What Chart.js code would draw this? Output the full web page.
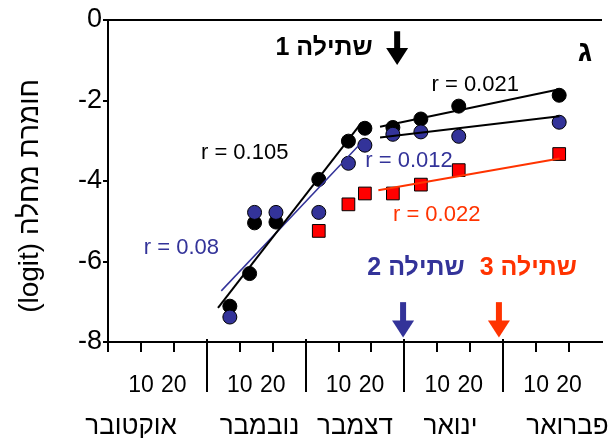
<!DOCTYPE html>
<html>
<head>
<meta charset="utf-8">
<script src="https://cdn.jsdelivr.net/npm/chart.js@4.4.1/dist/chart.umd.min.js"></script>
<style>
  html, body { margin: 0; padding: 0; background: #fff; }
</style>
</head>
<body>
<canvas id="severityChart" width="612" height="438"></canvas>
<script>
// x = days from 1 October (30 days per month), y = disease severity (logit)
const monthNames = ["אוקטובר", "נובמבר", "דצמבר", "ינואר", "פברואר"];
const monthStarts = [30, 60, 90, 120];
const dayTicks = [0, 10, 20, 30, 40, 50, 60, 70, 80, 90, 100, 110, 120, 130, 140];
const monthLabelTicks = [7, 46, 75, 104, 139.5];

const blackDays = [37, 43, 44.5, 51, 64, 73, 78, 86.5, 95, 106.5, 137];
const blackValues = [-7.11, -6.3, -5.04, -5.02, -3.96, -3.01, -2.69, -2.67, -2.46, -2.14, -1.87];

const blueDays = [37, 44.5, 51, 64, 73, 78, 86.5, 95, 106.5, 137];
const blueValues = [-7.38, -4.78, -4.78, -4.78, -3.56, -3.11, -2.84, -2.78, -2.89, -2.54];

const redDays = [64, 73, 78, 86.5, 95, 106.5, 137];
const redValues = [-5.24, -4.58, -4.31, -4.31, -4.09, -3.73, -3.33];

// fitted lines (end points)
const blackSteepDays = [33.4, 77];
const blackSteepValues = [-7.15, -2.55];
const blueSteepDays = [34.4, 77.7];
const blueSteepValues = [-6.73, -2.98];
const blackFlatDays = [82.6, 137.1];
const blackFlatValues = [-2.65, -1.72];
const blueFlatDays = [82.6, 137.1];
const blueFlatValues = [-2.92, -2.39];
const redFlatDays = [82.1, 137.1];
const redFlatValues = [-4.23, -3.44];

const BLUE = "#333399";
const RED = "#ff3300";
const FONT = "'Liberation Sans', Arial, sans-serif";

// text notes and planting arrows, in data units
const notes = [
  { text: "שתילה 1", x: 65.6, y: -0.70, color: "#000", bold: true, size: 25 },
  { text: "שתילה 2", x: 93.5, y: -6.17, color: BLUE, bold: true, size: 25 },
  { text: "שתילה 3", x: 127.6, y: -6.17, color: RED, bold: true, size: 25 },
  { text: "ג", x: 144.8, y: -0.82, color: "#000", bold: true, size: 30 },
  { text: "r = 0.021", x: 111.5, y: -1.62, color: "#000", bold: false, size: 22 },
  { text: "r = 0.105", x: 41.5, y: -3.31, color: "#000", bold: false, size: 22 },
  { text: "r = 0.012", x: 91.4, y: -3.51, color: BLUE, bold: false, size: 22 },
  { text: "r = 0.022", x: 99.8, y: -4.85, color: RED, bold: false, size: 22 },
  { text: "r = 0.08", x: 22.3, y: -5.67, color: BLUE, bold: false, size: 22 }
];
const arrows = [
  { x: 87.8, from: -0.28, to: -1.12, color: "#000" },
  { x: 89.6, from: -7.01, to: -7.89, color: BLUE },
  { x: 118.7, from: -7.01, to: -7.89, color: RED }
];

const toXY = (xs, ys) => xs.map((x, i) => ({ x: x, y: ys[i] }));

const fitLine = (xs, ys, color, width) => ({
  type: "line",
  data: toXY(xs, ys),
  borderColor: color,
  borderWidth: width,
  pointRadius: 0,
  showLine: true,
  order: 0
});

const noSidePadding = (scale, h) => {
  scale.height = h;
  scale.paddingLeft = 0;
  scale.paddingRight = 0;
};

const extras = {
  id: "extras",
  afterDatasetsDraw(chart) {
    const ctx = chart.ctx;
    const xs = chart.scales.x;
    const ys = chart.scales.y;
    const area = chart.chartArea;

    ctx.save();
    // long month separators below the axis
    ctx.strokeStyle = "#000";
    ctx.lineWidth = 2;
    monthStarts.forEach((d) => {
      const px = Math.round(xs.getPixelForValue(d));
      ctx.beginPath();
      ctx.moveTo(px, area.bottom - 3);
      ctx.lineTo(px, area.bottom + 50);
      ctx.stroke();
    });

    // arrows
    arrows.forEach((a) => {
      const px = xs.getPixelForValue(a.x);
      const top = ys.getPixelForValue(a.from);
      const tip = ys.getPixelForValue(a.to);
      const headStart = tip - 17;
      ctx.fillStyle = a.color;
      ctx.fillRect(px - 3, top, 6, headStart - top + 1);
      ctx.beginPath();
      ctx.moveTo(px - 11, headStart);
      ctx.lineTo(px + 11, headStart);
      ctx.lineTo(px, tip);
      ctx.closePath();
      ctx.fill();
    });

    // notes
    ctx.textAlign = "center";
    ctx.textBaseline = "middle";
    notes.forEach((n) => {
      ctx.font = (n.bold ? "bold " : "") + n.size + "px " + FONT;
      ctx.fillStyle = n.color;
      ctx.fillText(n.text, xs.getPixelForValue(n.x), ys.getPixelForValue(n.y));
    });

    // y axis title
    ctx.translate(30, 196);
    ctx.rotate(-Math.PI / 2);
    ctx.font = "28px " + FONT;
    ctx.fillStyle = "#000";
    ctx.fillText("\u202Bחומרת מחלה (logit)\u202C", 0, 0);
    ctx.restore();
  }
};

const canvas = document.querySelector("#severityChart");
const severityChart = new Chart(canvas, {
  type: "scatter",
  data: {
    datasets: [
      fitLine(blackSteepDays, blackSteepValues, "#000", 2),
      fitLine(blueSteepDays, blueSteepValues, BLUE, 1.5),
      fitLine(blackFlatDays, blackFlatValues, "#000", 2),
      fitLine(blueFlatDays, blueFlatValues, "#000", 2),
      fitLine(redFlatDays, redFlatValues, RED, 2),
      {
        label: "red",
        data: toXY(redDays, redValues),
        pointStyle: "rect",
        pointRadius: 9,
        backgroundColor: "#ff0000",
        borderColor: "#000",
        borderWidth: 1,
        order: 1
      },
      {
        label: "blue",
        data: toXY(blueDays, blueValues),
        pointRadius: 7,
        backgroundColor: BLUE,
        borderColor: "#000",
        borderWidth: 1,
        order: 2
      },
      {
        label: "black",
        data: toXY(blackDays, blackValues),
        pointRadius: 7,
        backgroundColor: "#000",
        borderColor: "#000",
        borderWidth: 1,
        order: 3
      }
    ]
  },
  options: {
    responsive: false,
    animation: false,
    devicePixelRatio: 1,
    layout: { padding: { top: 20, right: 2, left: 0, bottom: 0 } },
    scales: {
      x: {
        type: "linear",
        min: 0,
        max: 150,
        afterBuildTicks: (scale) => {
          scale.ticks = dayTicks.map((v) => ({ value: v }));
        },
        afterFit: (scale) => noSidePadding(scale, 56),
        border: { color: "#000", width: 2 },
        grid: { drawOnChartArea: false, color: "#000", lineWidth: 2, tickLength: 10 },
        ticks: {
          autoSkip: false,
          maxRotation: 0,
          padding: 20,
          color: "#000",
          font: { family: FONT, size: 23 },
          callback: (v) => (v % 30 === 10 ? "10" : v % 30 === 20 ? "20" : "")
        }
      },
      x2: {
        type: "linear",
        position: "bottom",
        min: 0,
        max: 150,
        afterBuildTicks: (scale) => {
          scale.ticks = monthLabelTicks.map((v) => ({ value: v }));
        },
        afterFit: (scale) => noSidePadding(scale, 40),
        border: { display: false },
        grid: { display: false },
        ticks: {
          autoSkip: false,
          maxRotation: 0,
          padding: 5,
          color: "#000",
          font: { family: FONT, size: 26 },
          callback: (v) => monthNames[monthLabelTicks.indexOf(v)]
        }
      },
      y: {
        min: -8,
        max: 0,
        afterFit: (scale) => {
          scale.width = 108;
        },
        border: { color: "#000", width: 2 },
        grid: {
          color: (c) => (c.tick && c.tick.value === 0 ? "#000" : "rgba(0,0,0,0)"),
          tickColor: "#000",
          lineWidth: 2,
          tickLength: 5
        },
        ticks: {
          stepSize: 2,
          padding: 1,
          color: "#000",
          font: { family: FONT, size: 27 }
        }
      }
    },
    plugins: {
      legend: { display: false },
      tooltip: { enabled: false }
    }
  },
  plugins: [extras]
});
</script>
</body>
</html>
